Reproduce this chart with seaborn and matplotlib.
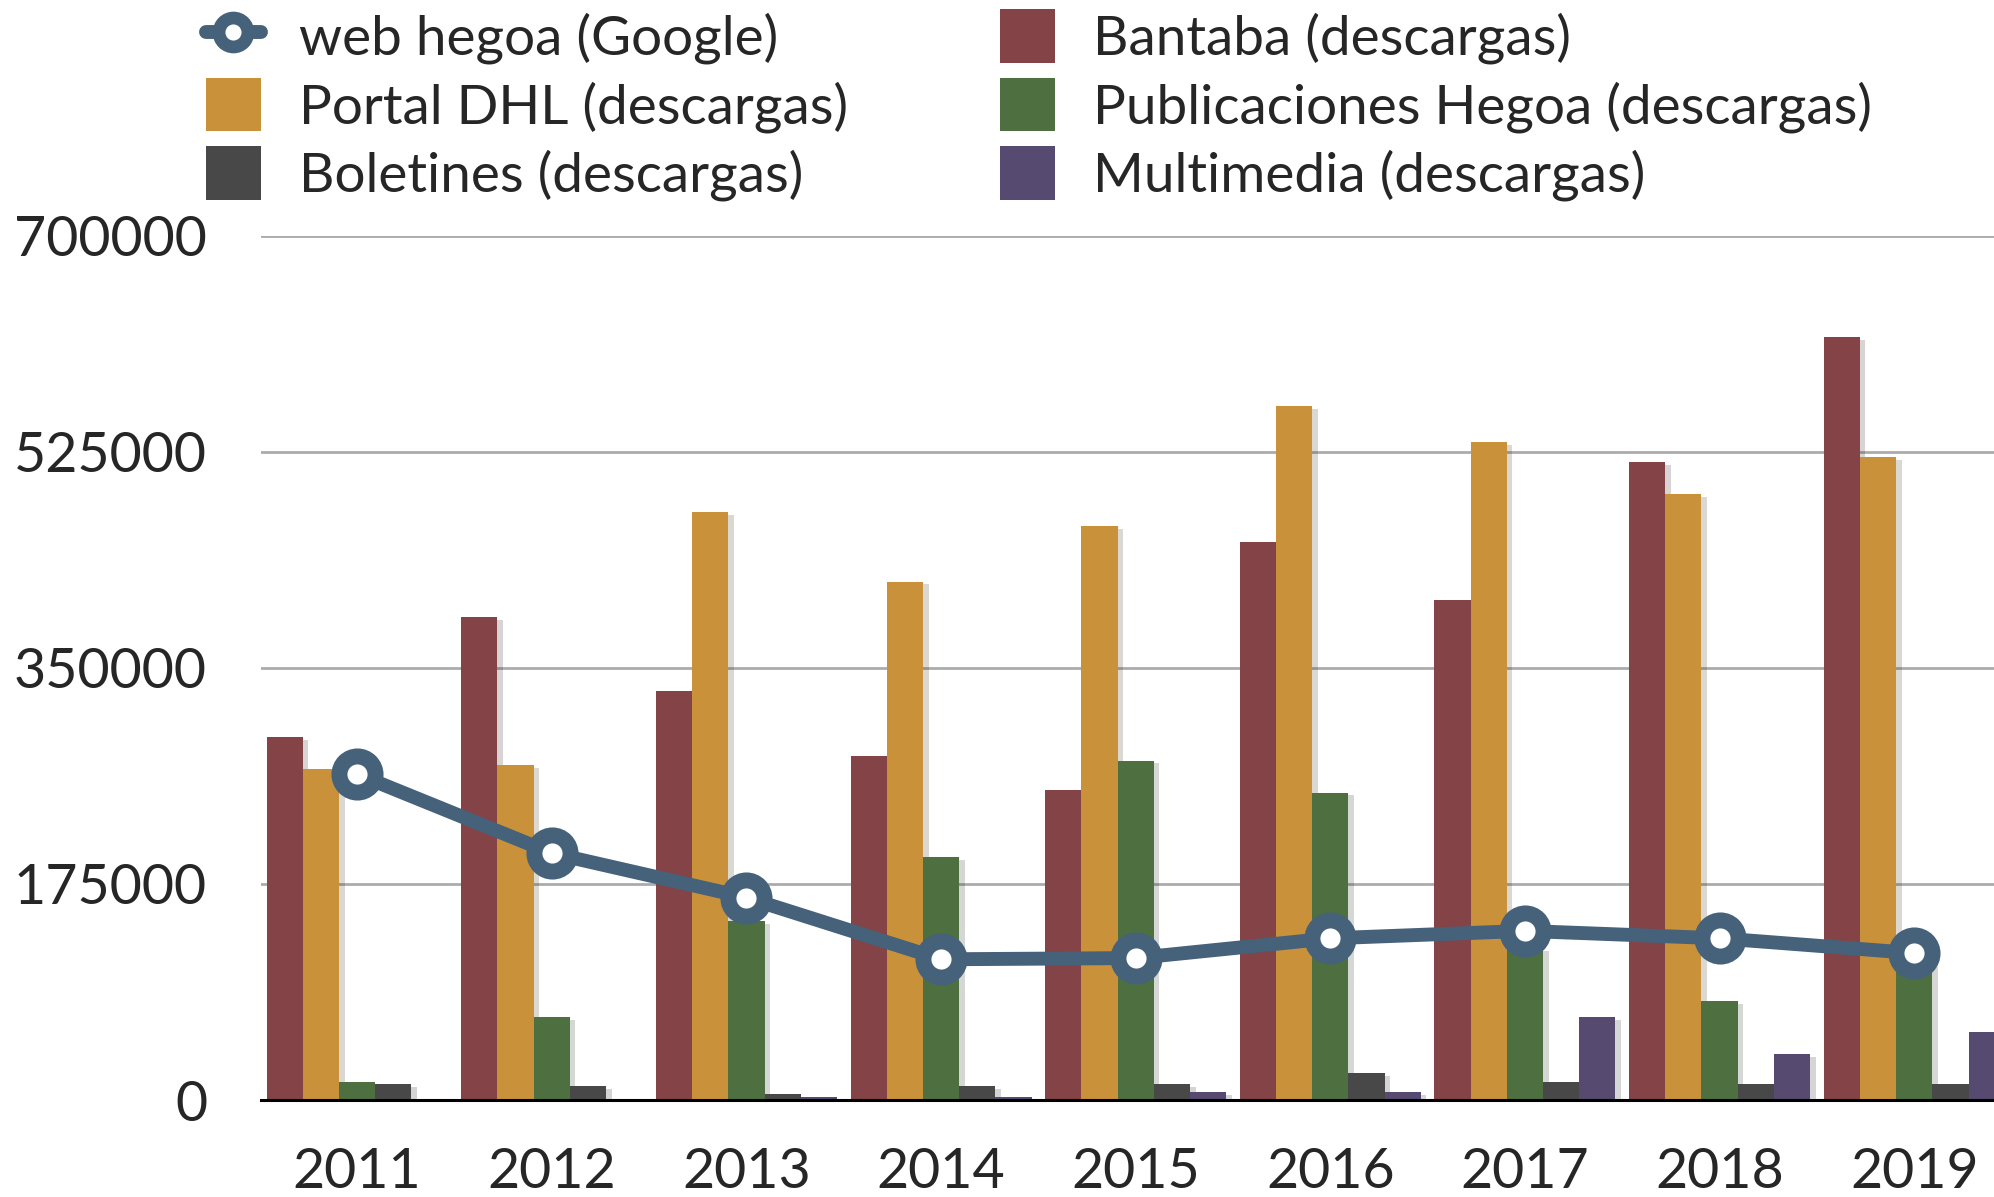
import numpy as np
import pandas as pd
import seaborn as sns
import matplotlib.pyplot as plt
from matplotlib.patches import Patch
from matplotlib.lines import Line2D
from matplotlib.ticker import StrMethodFormatter
import matplotlib.patheffects as pe

# Datos
anios = ['2011', '2012', '2013', '2014', '2015', '2016', '2017', '2018', '2019']
bantaba = [294000, 391000, 331000, 279000, 251000, 452000, 405000, 517000, 618000]
portal_dhl = [268000, 271000, 476000, 420000, 465000, 562000, 533000, 491000, 521000]
publicaciones = [15000, 67000, 145000, 197000, 275000, 249000, 123000, 80000, 110000]
boletines = [13000, 11000, 5000, 11000, 13000, 22000, 15000, 13000, 13000]
multimedia = [0, 0, 2500, 2500, 6500, 6500, 67000, 37000, 55000]
web_hegoa = [264000, 200000, 164000, 114000, 115000, 131000, 137000, 131000, 119000]

series = ['Bantaba (descargas)', 'Portal DHL (descargas)', 'Publicaciones Hegoa (descargas)',
          'Boletines (descargas)', 'Multimedia (descargas)']
colores = ['#844346', '#C9923A', '#4E7040', '#484848', '#574A70']
color_linea = '#46617A'
yticks = [0, 175000, 350000, 525000, 700000]

df = pd.DataFrame({
    'anio': anios * 5,
    'serie': np.repeat(series, len(anios)),
    'valor': bantaba + portal_dhl + publicaciones + boletines + multimedia,
})

sns.set_style('white')
plt.rcParams['font.family'] = ['Lato', 'DejaVu Sans']

fig = plt.figure(figsize=(19.94, 11.97), dpi=100)
ax = fig.add_axes([0.131, 0.081, 0.869, 0.722])

sns.barplot(data=df, x='anio', y='valor', hue='serie', hue_order=series,
            palette=dict(zip(series, colores)), width=0.93, gap=0, saturation=1,
            linewidth=0, legend=False, ax=ax, zorder=2)

for p in ax.patches:
    p.set_path_effects([pe.SimplePatchShadow(offset=(4, -2), alpha=0.18), pe.Normal()])

# marcador: circulo azul con centro blanco
ms_ext, ms_int = 37.5, 14.5

sns.pointplot(x=anios, y=web_hegoa, ax=ax, color=color_linea, markers='o',
              errorbar=None, linewidth=10, markersize=ms_ext, markeredgewidth=0,
              zorder=10)
sns.pointplot(x=anios, y=web_hegoa, ax=ax, color='white', markers='o',
              linestyles='none', errorbar=None, markersize=ms_int, markeredgewidth=0,
              zorder=11)

ax.set_xlim(-0.493, 8.41)
ax.set_ylim(0, 700000)
ax.set_yticks(yticks)
ax.yaxis.set_major_formatter(StrMethodFormatter('{x:.0f}'))
ax.grid(axis='y', color='#ababab', linewidth=2)
ax.set_axisbelow(True)
for s in ['top', 'right', 'left']:
    ax.spines[s].set_visible(False)
ax.spines['bottom'].set_color('black')
ax.spines['bottom'].set_linewidth(2.2)
ax.spines['bottom'].set_zorder(3)
ax.tick_params(axis='y', length=0, pad=39, labelsize=40)
ax.tick_params(axis='x', length=0, pad=34, labelsize=40)
ax.set_xlabel('')
ax.set_ylabel('')

# Leyenda en dos bloques
h_linea = (Line2D([], [], color=color_linea, linewidth=10, marker='o',
                  markersize=ms_ext * 0.8, markeredgewidth=0),
           Line2D([], [], linestyle='none', marker='o', markersize=ms_int * 0.8,
                  markerfacecolor='white', markeredgewidth=0))
h = [Patch(facecolor=c, edgecolor='none') for c in colores]
leg_kw = dict(frameon=False, fontsize=39.5, handlelength=1.0, handleheight=1.13,
              handletextpad=0.7, labelspacing=0.25, borderpad=0, borderaxespad=0,
              loc='upper left')
fig.legend(handles=[h_linea, h[1], h[3]],
           labels=['web hegoa (Google)', series[1], series[3]],
           bbox_to_anchor=(206 / 1994, 1 - 9 / 1197), **leg_kw)
fig.legend(handles=[h[0], h[2], h[4]],
           labels=[series[0], series[2], series[4]],
           bbox_to_anchor=(1000 / 1994, 1 - 9 / 1197), **leg_kw)

plt.savefig('out.png', dpi=100)
